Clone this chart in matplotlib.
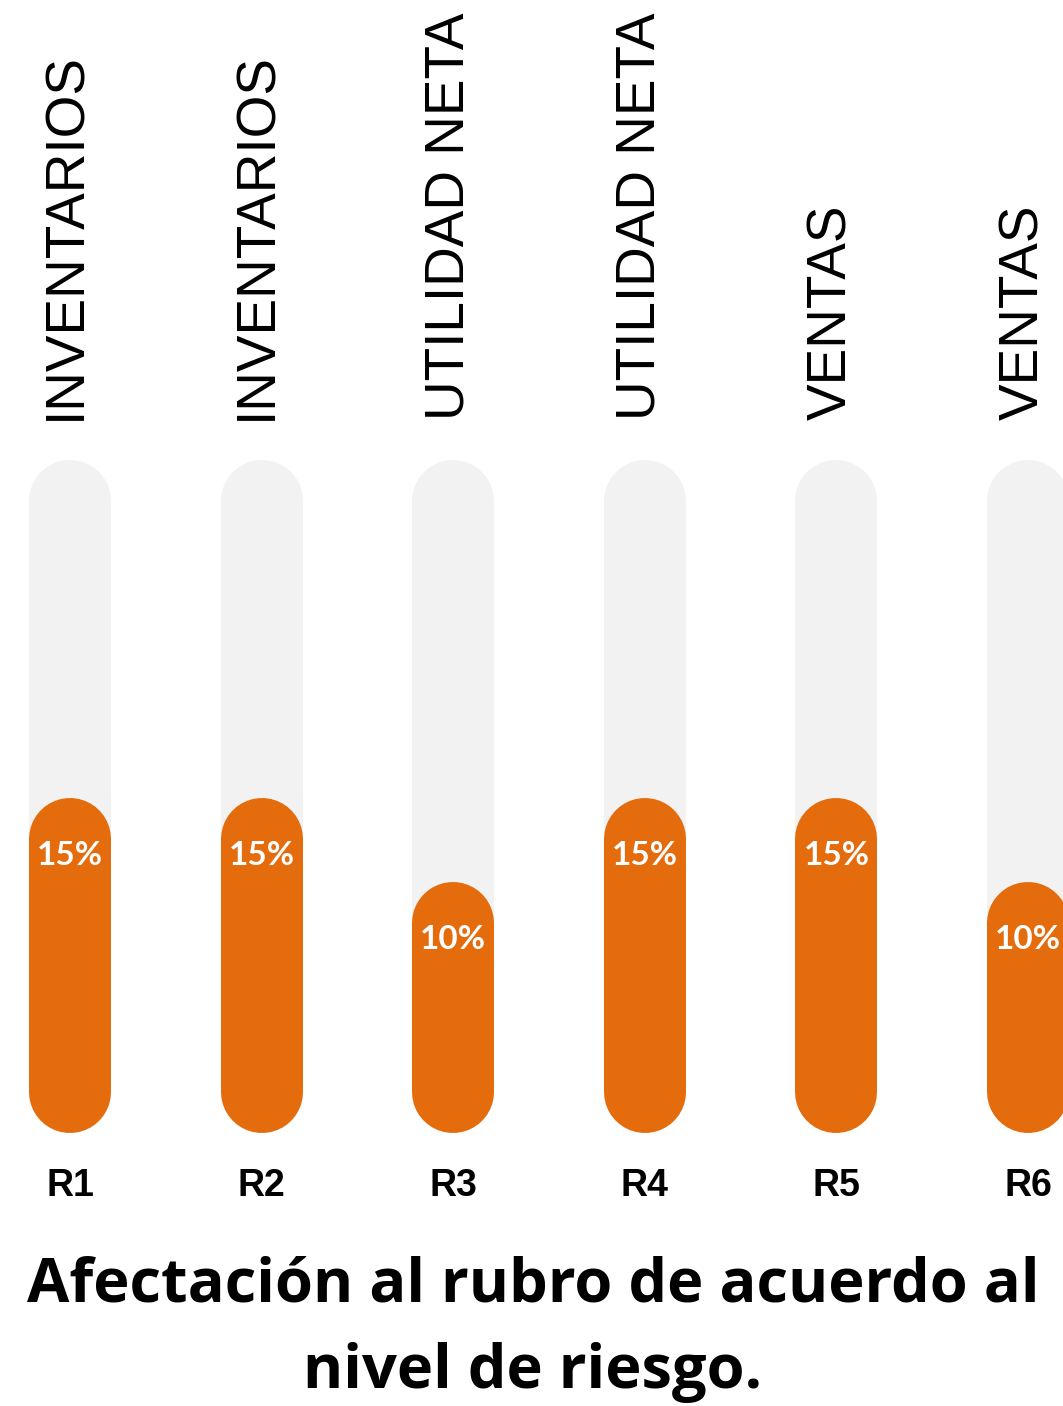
import matplotlib
matplotlib.use('Agg')
import matplotlib.pyplot as plt
import matplotlib.transforms as mtransforms

rubros = ['INVENTARIOS', 'INVENTARIOS', 'UTILIDAD NETA', 'UTILIDAD NETA', 'VENTAS', 'VENTAS']
riesgos = ['R1', 'R2', 'R3', 'R4', 'R5', 'R6']
afectacion = [15, 15, 10, 15, 15, 10]
maximo = 35

naranja = '#E46C0C'
gris = '#F2F2F2'

fig = plt.figure(figsize=(10.63, 14.06), dpi=100)
ax = fig.add_axes([0, 314 / 1406, 1, 591.5 / 1406])
ax.set_xlim(-70 / 191.6, (1063 - 70) / 191.6)
ax.set_ylim(0, maximo)
ax.axis('off')

lw = 82 * 72 / 100
for i, v in enumerate(afectacion):
    ax.plot([i, i], [0, maximo], color=gris, lw=lw, solid_capstyle='round', clip_on=False, zorder=1)
    ax.plot([i, i], [0, v], color=naranja, lw=lw, solid_capstyle='round', clip_on=False, zorder=2)
    ax.text(i, v - 1.0, f'{v}%', color='white', fontsize=24, fontweight='bold',
            family='Lato', ha='center', va='center', zorder=3)

trans = mtransforms.blended_transform_factory(ax.transData, fig.transFigure)
for i, (r, c) in enumerate(zip(riesgos, rubros)):
    ax.text(i, 220 / 1406, r, transform=trans, fontsize=27, fontweight='bold',
            family='Liberation Sans', ha='center', va='center')
    ax.text(i - 0.02, 986 / 1406, c, transform=trans, fontsize=39.5, rotation=90,
            rotation_mode='anchor', family='Liberation Sans', ha='left', va='center')

fig.text(533 / 1063, 104 / 1406, 'Afectación al rubro de acuerdo al', fontsize=44.2,
         fontweight='bold', family='Open Sans', ha='center', va='baseline')
fig.text(533 / 1063, 18 / 1406, 'nivel de riesgo.', fontsize=44.2,
         fontweight='bold', family='Open Sans', ha='center', va='baseline')

fig.savefig('out.png', dpi=100, facecolor='white')
